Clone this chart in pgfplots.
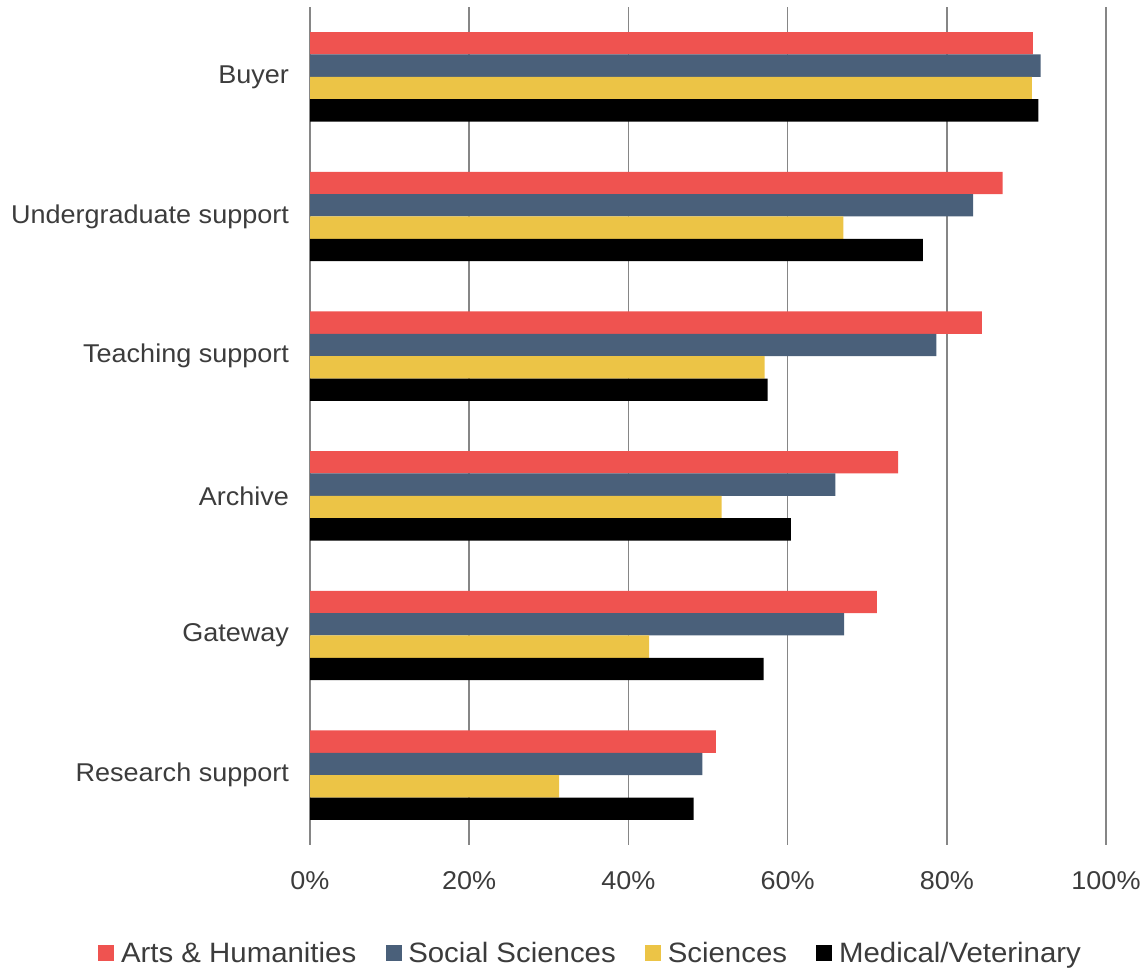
\documentclass[border=0pt]{standalone}
\usepackage{fontspec}
\setmainfont{Liberation Sans}[FakeStretch=1.05]
\usepackage{pgfplots}
\pgfplotsset{compat=1.18}
\definecolor{cArts}{HTML}{EF5350}
\definecolor{cSoc}{HTML}{4A607A}
\definecolor{cSci}{HTML}{ECC446}
\definecolor{cMed}{HTML}{000000}
\definecolor{txt}{HTML}{3C3C3C}
\definecolor{grd}{HTML}{868686}
\pgfplotsset{sqlegend/.style={legend image code/.code={\fill[##1] (0pt,-6pt) rectangle (12pt,6pt);}}}
\begin{document}
\begin{tikzpicture}
\path[use as bounding box] (0,0) rectangle (859.5pt,727.5pt);
\begin{axis}[
  at={(232.5pt,93.75pt)}, anchor=south west,
  scale only axis, width=597pt, height=628.5pt,
  xbar, bar width=0.16,
  xmin=0, xmax=100, ymin=-0.5, ymax=5.5,
  xtick={0,20,40,60,80,100},
  xticklabels={0\%,20\%,40\%,60\%,80\%,100\%},
  ytick={0,1,2,3,4,5},
  yticklabels={Research support,Gateway,Archive,Teaching support,Undergraduate support,Buyer},
  axis line style={draw=none},
  tick style={draw=none},
  xmajorgrids, major grid style={grd, line width=1.1pt},
  ticklabel style={font=\fontsize{19.3}{23}\selectfont, text=txt},
  yticklabel style={xshift=-8pt},
  xticklabel style={yshift=-16pt},
  legend columns=4,
  legend style={at={(0.353,-0.129)}, anchor=center, draw=none, fill=none,
    font=\fontsize{21}{25}\selectfont, text=txt,
    /tikz/every odd column/.append style={column sep=3pt},
    /tikz/every even column/.append style={column sep=20pt}},
]
\addplot[fill=cArts, draw=none, bar shift=0.24, sqlegend] coordinates {
  (51.0,0) (71.2,1) (73.9,2) (84.4,3) (87.0,4) (90.8,5)};
\addplot[fill=cSoc, draw=none, bar shift=0.08, sqlegend] coordinates {
  (49.3,0) (67.1,1) (66.0,2) (78.7,3) (83.3,4) (91.8,5)};
\addplot[fill=cSci, draw=none, bar shift=-0.08, sqlegend] coordinates {
  (31.3,0) (42.6,1) (51.7,2) (57.1,3) (67.0,4) (90.7,5)};
\addplot[fill=cMed, draw=none, bar shift=-0.24, sqlegend] coordinates {
  (48.2,0) (57.0,1) (60.4,2) (57.5,3) (77.0,4) (91.5,5)};
\legend{Arts \& Humanities, Social Sciences, Sciences, Medical/Veterinary}
\end{axis}
\end{tikzpicture}
\end{document}
